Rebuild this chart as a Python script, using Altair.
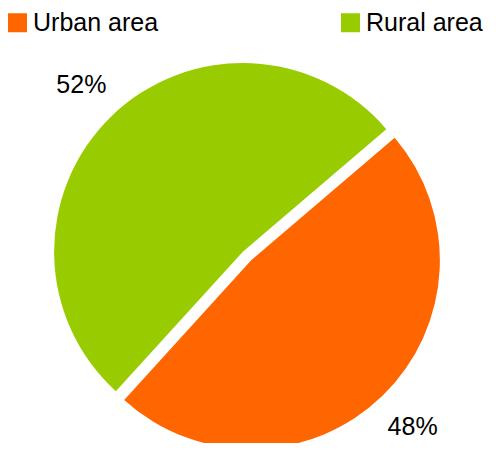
import math
import altair as alt
import pandas as pd

categories = ["Urban area", "Rural area"]
values = [48, 52]
labels = ["48%", "52%"]
colors = ["#FF6600", "#99CC00"]

df = pd.DataFrame({"category": categories, "value": values, "label": labels,
                   "order": [0, 1]})

start = math.radians(49.5)
theta_scale = alt.Scale(domain=[0, 100], range=[start, start + 2 * math.pi])
color_scale = alt.Scale(domain=categories, range=colors)

FONT = "Liberation Sans, Arial, sans-serif"

base = (
    alt.Chart(df)
    .transform_window(cum="sum(value)", sort=[alt.SortField("order")])
    .transform_calculate(start="datum.cum - datum.value",
                         mid="datum.cum - datum.value / 2")
)

r = 188.7
d = 6.0
bis = math.radians(49.5 + 86.4)
ux, uy = math.sin(bis), -math.cos(bis)
cx, cy = 247 - 8, 256 - 8
centers = {
    "Urban area": (cx + d * ux, cy + d * uy),
    "Rural area": (cx - d * ux, cy - d * uy),
}

layers = []
for cat in categories:
    px, py = centers[cat]
    sub = base.transform_filter(alt.datum.category == cat)
    arc = sub.mark_arc(radius=r, stroke=None).encode(
        theta=alt.Theta("start:Q", scale=theta_scale, stack=False),
        theta2="cum:Q",
        color=alt.Color("category:N", scale=color_scale, sort=categories,
                        legend=alt.Legend(title=None)),
        x=alt.value(px),
        y=alt.value(py),
    )
    txt = sub.mark_text(radius=232, fontSize=25, font=FONT, color="#000000",
                        baseline="middle", align="center").encode(
        theta=alt.Theta("mid:Q", scale=theta_scale, stack=False),
        text="label:N",
        x=alt.value(px),
        y=alt.value(py),
    )
    layers += [arc, txt]

chart = (
    alt.layer(*layers)
    .properties(width=480, height=435, autosize=alt.AutoSizeParams(type="none"),
                padding=0)
    .configure_view(stroke=None)
    .configure_legend(
        orient="none", legendX=-3, legendY=2, direction="horizontal",
        symbolType="square", symbolSize=361, symbolStrokeWidth=0,
        labelFontSize=25, labelFont=FONT, labelColor="#000000",
        labelOffset=3, columnPadding=179, padding=0, symbolOffset=0,
    )
)

chart.save("out.html", embed_options={"renderer": "svg", "actions": False})
